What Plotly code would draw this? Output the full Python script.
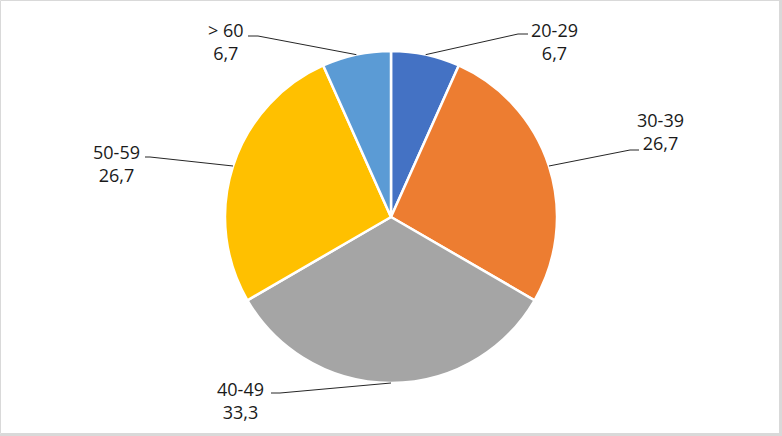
import math
import plotly.graph_objects as go

W, H = 782, 436

# ---- data ----
categories = ["20-29", "30-39", "40-49", "50-59", "> 60"]
values = [6.7, 26.7, 33.3, 26.7, 6.7]
value_labels = ["6,7", "26,7", "33,3", "26,7", "6,7"]
colors = ["#4472C4", "#ED7D31", "#A5A5A5", "#FFC000", "#5B9BD5"]

# ---- layout (pixel geometry) ----
cx, cy, R = 391, 217, 166
# label text centre (px) and leader elbow / end points (px)
label_centers = [(554, 41), (660, 131), (241, 400), (116, 164), (226, 42)]
elbows = [((518, 34), (528, 34)), ((630, 150), (639, 150)), ((280, 393), (271, 393)),
          ((150, 157), (145, 157)), ((258, 36), (248, 36))]

def px(x):
    return x / W

def py(y):
    return 1 - y / H

fig = go.Figure()
fig.add_trace(go.Pie(
    labels=categories, values=values, sort=False, direction="clockwise", rotation=0,
    marker=dict(colors=colors, line=dict(color="white", width=2.5)),
    textinfo="none", hoverinfo="label+value", showlegend=False,
    domain=dict(x=[px(cx - R), px(cx + R)], y=[py(cy + R), py(cy - R)]),
))

shapes = []
annotations = []
total = sum(values)
cum = 0.0
for i, v in enumerate(values):
    mid = (cum + v / 2) / total * 2 * math.pi
    cum += v
    ex = cx + R * math.sin(mid)
    ey = cy - R * math.cos(mid)
    (bx, by), (tx, ty) = elbows[i]
    path = f"M {px(ex)},{py(ey)} L {px(bx)},{py(by)} L {px(tx)},{py(ty)}"
    shapes.append(dict(type="path", xref="paper", yref="paper", path=path,
                       line=dict(color="#262626", width=1)))
    lx, ly = label_centers[i]
    annotations.append(dict(x=px(lx), y=py(ly), xref="paper", yref="paper",
                            text=f"{categories[i]}<br>{value_labels[i]}",
                            showarrow=False, align="center",
                            xanchor="center", yanchor="middle",
                            font=dict(family="Open Sans", size=18, color="#1a1a1a")))

# chart border
shapes.append(dict(type="rect", xref="paper", yref="paper",
                   x0=px(0.5), x1=px(779.5), y0=py(433.5), y1=py(0.5),
                   line=dict(color="#d9d9d9", width=1)))
shapes.append(dict(type="rect", xref="paper", yref="paper",
                   x0=px(779), x1=1, y0=0, y1=1,
                   line=dict(width=0), fillcolor="#d9d9d9"))
shapes.append(dict(type="rect", xref="paper", yref="paper",
                   x0=0, x1=1, y0=0, y1=py(434),
                   line=dict(width=0), fillcolor="#d9d9d9"))

fig.update_layout(
    width=W, height=H,
    margin=dict(l=0, r=0, t=0, b=0),
    paper_bgcolor="white", plot_bgcolor="white",
    shapes=shapes, annotations=annotations,
)

fig.write_html("out.html", config={"displayModeBar": False},
               post_script="document.body.style.margin='0';document.body.style.overflow='hidden';")
